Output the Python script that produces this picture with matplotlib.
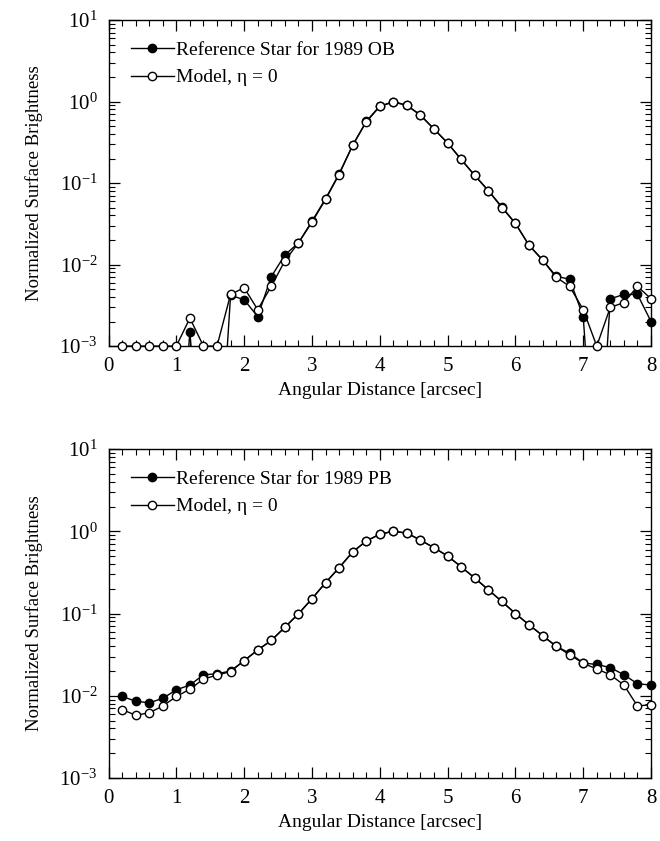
import numpy as np
import matplotlib
matplotlib.use("Agg")
import matplotlib.pyplot as plt
import matplotlib.ticker as ticker
from matplotlib.lines import Line2D

plt.rcParams['font.family'] = ['Liberation Serif', 'DejaVu Serif']
plt.rcParams['mathtext.fontset'] = 'stix'
plt.rcParams['axes.unicode_minus'] = False

# angular distance [arcsec]
x = [0.2, 0.4, 0.6, 0.8, 1.0, 1.2, 1.4, 1.6, 1.8, 2.0,
     2.2, 2.4, 2.6, 2.8, 3.0, 3.2, 3.4, 3.6, 3.8, 4.0,
     4.2, 4.4, 4.6, 4.8, 5.0, 5.2, 5.4, 5.6, 5.8, 6.0,
     6.2, 6.4, 6.6, 6.8, 7.0, 7.2, 7.4, 7.6, 7.8, 8.0]

# 1989 OB panel (values below 1e-3 fall off the bottom of the plot)
ref_ob = [1e-5, 1e-5, 1e-5, 1e-5, 1e-5, 1.5e-3, 1e-5, 1e-5, 4.2e-3, 3.7e-3,
          2.3e-3, 7.1e-3, 0.0131, 0.0184, 0.034, 0.064, 0.13, 0.29, 0.57, 0.88,
          0.98, 0.90, 0.68, 0.46, 0.31, 0.195, 0.124, 0.081, 0.051, 0.032,
          0.0173, 0.0114, 7.2e-3, 6.6e-3, 2.3e-3, 1e-5, 3.8e-3, 4.3e-3, 4.3e-3, 2.0e-3]
model_ob = [1e-3, 1e-3, 1e-3, 1e-3, 1e-3, 2.2e-3, 1e-3, 1e-3, 4.3e-3, 5.2e-3,
            2.8e-3, 5.4e-3, 0.0111, 0.0184, 0.033, 0.063, 0.127, 0.29, 0.56, 0.87,
            1.0, 0.90, 0.68, 0.46, 0.31, 0.195, 0.124, 0.081, 0.050, 0.032,
            0.0173, 0.0114, 7.0e-3, 5.4e-3, 2.8e-3, 1e-3, 3.0e-3, 3.4e-3, 5.4e-3, 3.8e-3]

# 1989 PB panel
ref_pb = [0.0098, 0.0086, 0.0082, 0.0093, 0.0118, 0.0135, 0.0180, 0.0185, 0.0200, 0.0267,
          0.036, 0.047, 0.068, 0.099, 0.151, 0.237, 0.36, 0.56, 0.76, 0.92,
          1.0, 0.95, 0.78, 0.63, 0.50, 0.37, 0.27, 0.195, 0.14, 0.10,
          0.073, 0.054, 0.040, 0.033, 0.025, 0.024, 0.022, 0.018, 0.0140, 0.0135]
model_pb = [0.0068, 0.0058, 0.0062, 0.0075, 0.0098, 0.0120, 0.0160, 0.0178, 0.0197, 0.0267,
            0.036, 0.047, 0.068, 0.099, 0.151, 0.237, 0.36, 0.56, 0.76, 0.92,
            1.0, 0.95, 0.78, 0.63, 0.50, 0.37, 0.27, 0.195, 0.14, 0.10,
            0.073, 0.054, 0.040, 0.0316, 0.0248, 0.0212, 0.018, 0.0135, 0.0075, 0.0078]

labels_top = ["Reference Star for 1989 OB", "Model, \u03b7 = 0"]
labels_bot = ["Reference Star for 1989 PB", "Model, \u03b7 = 0"]

fig = plt.figure(figsize=(6.6, 8.41), dpi=100)
ax1 = fig.add_axes([0.1644, 0.5885, 0.822, 0.3877])
ax2 = fig.add_axes([0.1644, 0.0749, 0.822, 0.3912])


def draw(ax, ref, model, labels):
    xa = np.array(x)
    for y, face in [(ref, 'black'), (model, 'white')]:
        y = np.array(y)
        ax.plot(xa, y, color='black', lw=1.0, zorder=2)
        ok = y >= 1e-3
        ax.plot(xa[ok], y[ok], ls='none', marker='o', ms=6, mfc=face,
                mec='black', mew=1.0, clip_on=False, zorder=3)
    ax.set_yscale('log')
    ax.set_xlim(0, 8)
    ax.set_ylim(1e-3, 1e1)
    ax.xaxis.set_major_locator(ticker.MultipleLocator(1))
    ax.xaxis.set_minor_locator(ticker.MultipleLocator(0.2))
    ax.yaxis.set_major_locator(ticker.LogLocator(base=10, numticks=10))
    ax.yaxis.set_minor_locator(ticker.LogLocator(base=10, subs=np.arange(2, 10), numticks=10))
    ax.yaxis.set_minor_formatter(ticker.NullFormatter())
    ax.tick_params(which='both', direction='in', top=True, right=True, labelsize=15)
    ax.tick_params(which='major', length=8, width=0.9, pad=8)
    ax.tick_params(which='minor', length=4, width=0.8)
    for s in ax.spines.values():
        s.set_linewidth(1.0)
    ax.set_xlabel("Angular Distance [arcsec]", fontsize=14, labelpad=4)
    ax.set_ylabel("Normalized Surface Brightness", fontsize=13.5, labelpad=12)
    handles = [Line2D([], [], color='black', lw=1.0, marker='o', ms=6, mfc='black', mec='black'),
               Line2D([], [], color='black', lw=1.0, marker='o', ms=6, mfc='white', mec='black')]
    ax.legend(handles, labels, loc='upper left', bbox_to_anchor=(0.02, 0.97),
              frameon=False, fontsize=14, handlelength=2.2, handletextpad=0.1,
              labelspacing=0.5, borderpad=0.1)


draw(ax1, ref_ob, model_ob, labels_top)
draw(ax2, ref_pb, model_pb, labels_bot)

fig.savefig("out.png", dpi=100)
